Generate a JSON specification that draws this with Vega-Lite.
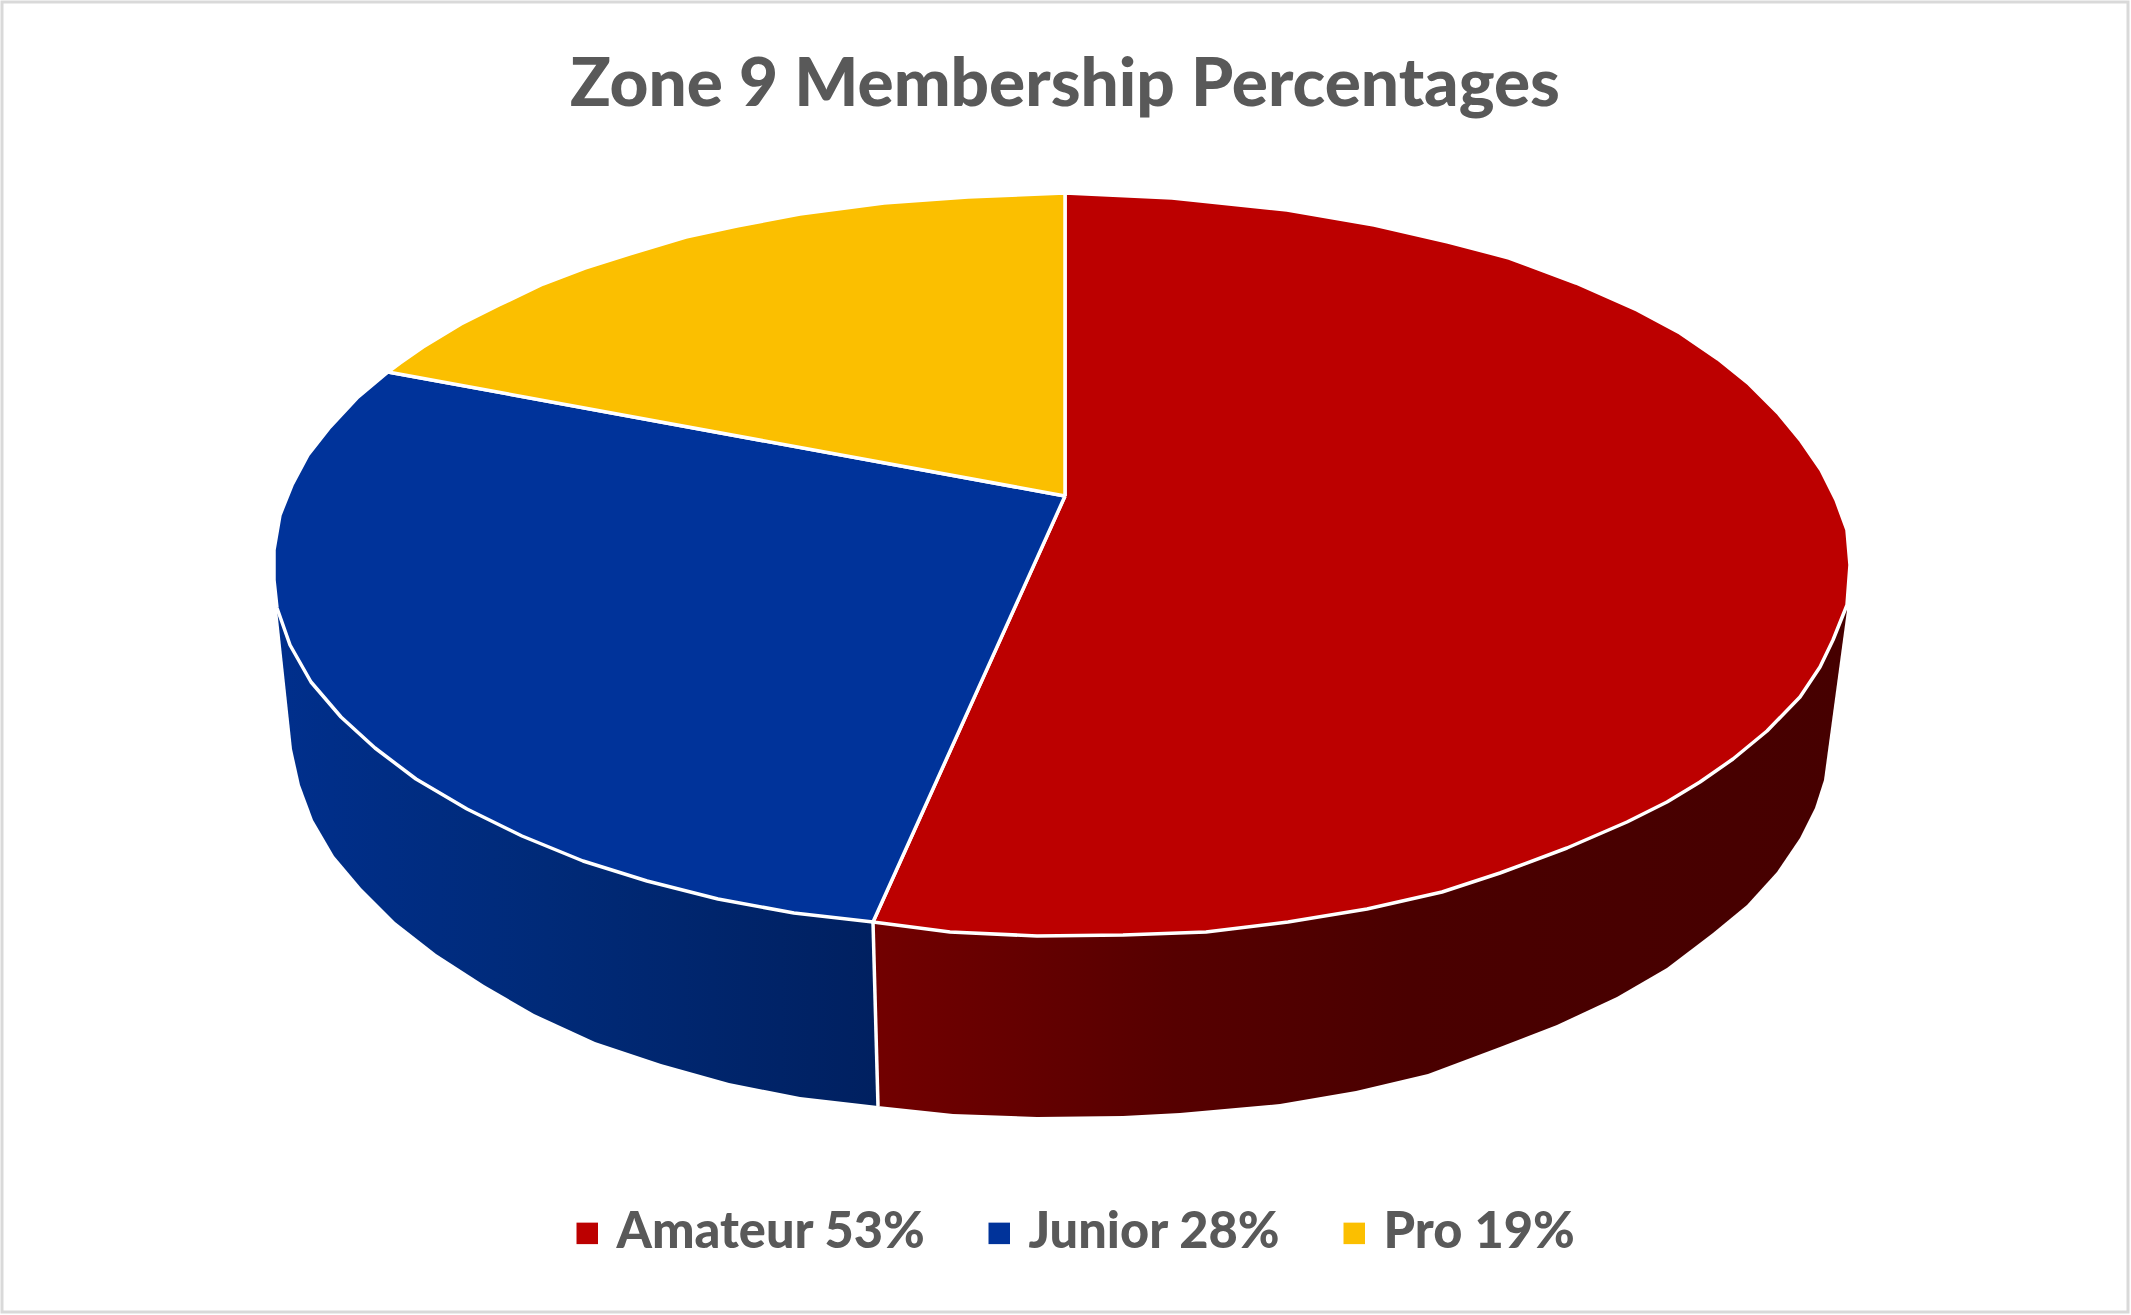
{
"$schema":"https://vega.github.io/schema/vega-lite/v6.json",
"autosize":{"type":"none"},
"padding":{"left":2,"top":2,"right":3,"bottom":3},
"width":2126,"height":1310,
"background":"white",
"view":{"stroke":"#d9d9d9","strokeWidth":3,"fill":"white"},
"title":{"text":"Zone 9 Membership Percentages","anchor":"middle","frame":"group","offset":-118,"font":"Lato","fontWeight":900,"fontSize":67.5,"color":"#595959"},
"datasets":{
"top":[
{"part":"Amateur 53%","seq":1,"x":1065,"y":496},{"part":"Amateur 53%","seq":2,"x":1065,"y":193},{"part":"Amateur 53%","seq":3,"x":1172,"y":198},{"part":"Amateur 53%","seq":4,"x":1287,"y":210},{"part":"Amateur 53%","seq":5,"x":1374,"y":225},{"part":"Amateur 53%","seq":6,"x":1448,"y":242},{"part":"Amateur 53%","seq":7,"x":1509,"y":258},{"part":"Amateur 53%","seq":8,"x":1576,"y":283},{"part":"Amateur 53%","seq":9,"x":1637,"y":310},{"part":"Amateur 53%","seq":10,"x":1680,"y":333},{"part":"Amateur 53%","seq":11,"x":1718,"y":359},{"part":"Amateur 53%","seq":12,"x":1749,"y":384},{"part":"Amateur 53%","seq":13,"x":1778,"y":413},{"part":"Amateur 53%","seq":14,"x":1801,"y":441},{"part":"Amateur 53%","seq":15,"x":1821,"y":470},{"part":"Amateur 53%","seq":16,"x":1836,"y":500},{"part":"Amateur 53%","seq":17,"x":1847,"y":530},{"part":"Amateur 53%","seq":18,"x":1850,"y":565},{"part":"Amateur 53%","seq":19,"x":1847,"y":605},{"part":"Amateur 53%","seq":20,"x":1833,"y":640},{"part":"Amateur 53%","seq":21,"x":1820,"y":667},{"part":"Amateur 53%","seq":22,"x":1800,"y":697},{"part":"Amateur 53%","seq":23,"x":1767,"y":731},{"part":"Amateur 53%","seq":24,"x":1733,"y":759},{"part":"Amateur 53%","seq":25,"x":1700,"y":782},{"part":"Amateur 53%","seq":26,"x":1667,"y":802},{"part":"Amateur 53%","seq":27,"x":1627,"y":822},{"part":"Amateur 53%","seq":28,"x":1567,"y":848},{"part":"Amateur 53%","seq":29,"x":1500,"y":873},{"part":"Amateur 53%","seq":30,"x":1442,"y":892},{"part":"Amateur 53%","seq":31,"x":1367,"y":909},{"part":"Amateur 53%","seq":32,"x":1288,"y":922},{"part":"Amateur 53%","seq":33,"x":1206,"y":932},{"part":"Amateur 53%","seq":34,"x":1123,"y":935},{"part":"Amateur 53%","seq":35,"x":1037,"y":936},{"part":"Amateur 53%","seq":36,"x":950,"y":932},{"part":"Amateur 53%","seq":37,"x":873,"y":922},{"part":"Amateur 53%","seq":38,"x":1065,"y":496},
{"part":"Junior 28%","seq":1,"x":1065,"y":496},{"part":"Junior 28%","seq":2,"x":873,"y":922},{"part":"Junior 28%","seq":3,"x":794,"y":913},{"part":"Junior 28%","seq":4,"x":718,"y":899},{"part":"Junior 28%","seq":5,"x":647,"y":881},{"part":"Junior 28%","seq":6,"x":583,"y":861},{"part":"Junior 28%","seq":7,"x":522,"y":836},{"part":"Junior 28%","seq":8,"x":467,"y":809},{"part":"Junior 28%","seq":9,"x":416,"y":779},{"part":"Junior 28%","seq":10,"x":375,"y":748},{"part":"Junior 28%","seq":11,"x":341,"y":717},{"part":"Junior 28%","seq":12,"x":311,"y":682},{"part":"Junior 28%","seq":13,"x":290,"y":645},{"part":"Junior 28%","seq":14,"x":277,"y":608},{"part":"Junior 28%","seq":15,"x":274,"y":580},{"part":"Junior 28%","seq":16,"x":274,"y":550},{"part":"Junior 28%","seq":17,"x":280,"y":515},{"part":"Junior 28%","seq":18,"x":292,"y":485},{"part":"Junior 28%","seq":19,"x":308,"y":455},{"part":"Junior 28%","seq":20,"x":330,"y":427},{"part":"Junior 28%","seq":21,"x":357,"y":398},{"part":"Junior 28%","seq":22,"x":388,"y":372},{"part":"Junior 28%","seq":23,"x":1065,"y":496},
{"part":"Pro 19%","seq":1,"x":1065,"y":496},{"part":"Pro 19%","seq":2,"x":388,"y":372},{"part":"Pro 19%","seq":3,"x":400,"y":363},{"part":"Pro 19%","seq":4,"x":423,"y":347},{"part":"Pro 19%","seq":5,"x":461,"y":324},{"part":"Pro 19%","seq":6,"x":499,"y":305},{"part":"Pro 19%","seq":7,"x":543,"y":284},{"part":"Pro 19%","seq":8,"x":585,"y":268},{"part":"Pro 19%","seq":9,"x":636,"y":252},{"part":"Pro 19%","seq":10,"x":686,"y":237},{"part":"Pro 19%","seq":11,"x":737,"y":226},{"part":"Pro 19%","seq":12,"x":800,"y":214},{"part":"Pro 19%","seq":13,"x":884,"y":203},{"part":"Pro 19%","seq":14,"x":968,"y":197},{"part":"Pro 19%","seq":15,"x":1065,"y":193},{"part":"Pro 19%","seq":16,"x":1065,"y":496}
],
"sideRed":[
{"seq":1,"x":873,"y":922},{"seq":2,"x":878,"y":1106},{"seq":3,"x":953,"y":1114},{"seq":4,"x":1037,"y":1117},{"seq":5,"x":1123,"y":1116},{"seq":6,"x":1180,"y":1113},{"seq":7,"x":1280,"y":1104},{"seq":8,"x":1356,"y":1091},{"seq":9,"x":1428,"y":1074},{"seq":10,"x":1500,"y":1047},{"seq":11,"x":1557,"y":1025},{"seq":12,"x":1617,"y":997},{"seq":13,"x":1667,"y":968},{"seq":14,"x":1713,"y":933},{"seq":15,"x":1747,"y":905},{"seq":16,"x":1777,"y":872},{"seq":17,"x":1800,"y":838},{"seq":18,"x":1815,"y":808},{"seq":19,"x":1824,"y":780},{"seq":20,"x":1847,"y":610},{"seq":21,"x":1065,"y":700}
],
"sideBlue":[
{"seq":1,"x":873,"y":922},{"seq":2,"x":878,"y":1106},{"seq":3,"x":800,"y":1097},{"seq":4,"x":729,"y":1083},{"seq":5,"x":661,"y":1064},{"seq":6,"x":595,"y":1042},{"seq":7,"x":534,"y":1014},{"seq":8,"x":484,"y":985},{"seq":9,"x":436,"y":954},{"seq":10,"x":395,"y":922},{"seq":11,"x":361,"y":888},{"seq":12,"x":334,"y":856},{"seq":13,"x":313,"y":820},{"seq":14,"x":300,"y":785},{"seq":15,"x":292,"y":749},{"seq":16,"x":277,"y":609},{"seq":17,"x":600,"y":700}
],
"edge":[{"seq":1,"x":873,"y":922},{"seq":2,"x":878,"y":1106}]
},
"encoding":{
"x":{"field":"x","type":"quantitative","scale":{"domain":[2,2128]},"axis":null},
"y":{"field":"y","type":"quantitative","scale":{"domain":[1312,2]},"axis":null},
"order":{"field":"seq","type":"quantitative"}
},
"layer":[
{"data":{"name":"sideBlue"},"mark":{"type":"line","strokeWidth":0,"fill":{"gradient":"linear","x1":0,"y1":0,"x2":1,"y2":0,"stops":[{"offset":0,"color":"#002f8c"},{"offset":0.45,"color":"#002a78"},{"offset":1,"color":"#002060"}]}}},
{"data":{"name":"sideRed"},"mark":{"type":"line","strokeWidth":0,"fill":{"gradient":"linear","x1":0,"y1":0,"x2":1,"y2":0,"stops":[{"offset":0,"color":"#720000"},{"offset":0.31,"color":"#560000"},{"offset":0.55,"color":"#4a0000"},{"offset":1,"color":"#460000"}]}}},
{"data":{"name":"edge"},"mark":{"type":"line","stroke":"white","strokeWidth":3.5}},
{"data":{"name":"top"},"mark":{"type":"line","stroke":"white","strokeWidth":3.5,"strokeJoin":"round"},
"encoding":{"fill":{"field":"part","type":"nominal","sort":["Amateur 53%","Junior 28%","Pro 19%"],
"scale":{"domain":["Amateur 53%","Junior 28%","Pro 19%"],"range":["#bc0000","#00339a","#fbbf00"]},
"legend":{"title":null,"orient":"none","legendX":560,"legendY":1206,"direction":"horizontal","columns":3,"symbolType":"square","symbolSize":462,"symbolStrokeWidth":0,"symbolOpacity":1,"labelFont":"Lato","labelFontWeight":900,"labelFontSize":50.5,"labelColor":"#595959","labelOffset":4,"columnPadding":48,"labelLimit":500}}}}
]
}
